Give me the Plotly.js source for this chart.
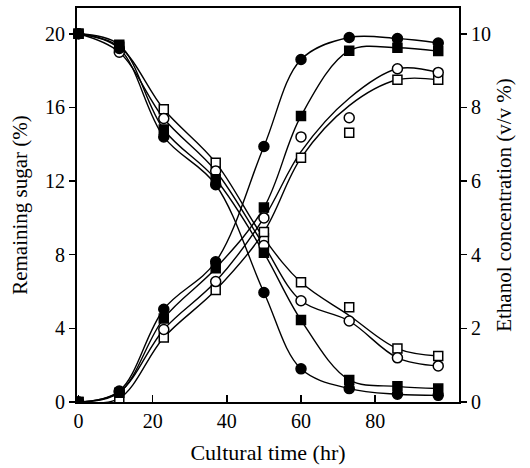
<!DOCTYPE html>
<html>
<head>
<meta charset="utf-8">
<script src="https://cdn.plot.ly/plotly-3.0.1.min.js"></script>
<style>html,body{margin:0;padding:0;background:#fff;}#chart{width:530px;height:468px;}</style>
</head>
<body>
<div id="chart"></div>
<script>
// Cultural time (hr)
var time = [0, 11, 23, 37, 50, 60, 73, 86, 97];

// Remaining sugar (%) - left axis
var sugarFilledCircle = [20, 19.2, 14.4, 11.8, 5.95, 1.8, 0.73, 0.42, 0.36];
var sugarFilledSquare = [20, 19.4, 14.8, 12.1, 8.1, 4.45, 1.2, 0.85, 0.73];
var sugarOpenCircle   = [20, 19.0, 15.4, 12.55, 8.5, 5.5, 4.4, 2.4, 1.96];
var sugarOpenSquare   = [20, 19.3, 15.9, 13.0, 8.9, 6.5, 5.15, 2.9, 2.5];
// smooth curve drawn through the open-square sugar data
var sugarOpenSquareCurve = [20, 19.3, 15.9, 13.0, 8.9, 6.5, 4.7, 2.9, 2.5];

// Ethanol concentration (v/v %) - right axis
var ethFilledCircle = [0, 0.3, 2.52, 3.81, 6.94, 9.3, 9.9, 9.87, 9.75];
var ethFilledSquare = [0, 0.25, 2.27, 3.63, 5.28, 7.77, 9.54, 9.62, 9.53];
var ethOpenCircle   = [0, 0.27, 1.97, 3.27, 5.0, 7.2, 7.72, 9.05, 8.95];
var ethOpenSquare   = [0, 0.1, 1.75, 3.04, 4.62, 6.63, 7.31, 8.75, 8.75];
// smooth curves drawn through the open-marker ethanol data
var ethOpenCircleCurve = [0, 0.27, 1.97, 3.27, 5.0, 6.8, 8.25, 9.05, 8.95];
var ethOpenSquareCurve = [0, 0.1, 1.75, 3.04, 4.62, 6.63, 8.05, 8.75, 8.75];

var xTicks = [0, 20, 40, 60, 80];
var sugarTicks = [0, 4, 8, 12, 16, 20];
var ethTicks = [0, 2, 4, 6, 8, 10];

var lineStyle = {color: '#000', width: 1.4, shape: 'spline', smoothing: 1};
function curve(y, axis) {
  return {x: time, y: y, yaxis: axis, mode: 'lines', line: lineStyle,
          hoverinfo: 'skip', showlegend: false};
}
function pts(y, axis, symbol, filled, size, clip) {
  return {x: time, y: y, yaxis: axis, mode: 'markers', showlegend: false,
          cliponaxis: clip,
          marker: {symbol: symbol, size: size, color: filled ? '#000' : '#fff',
                   line: {color: '#000', width: 1.5}}};
}

var traces = [
  curve(sugarFilledCircle, 'y'),
  curve(sugarFilledSquare, 'y'),
  curve(sugarOpenCircle, 'y'),
  curve(sugarOpenSquareCurve, 'y'),
  curve(ethFilledCircle, 'y2'),
  curve(ethFilledSquare, 'y2'),
  curve(ethOpenCircleCurve, 'y2'),
  curve(ethOpenSquareCurve, 'y2'),
  pts(sugarOpenSquare, 'y', 'square', false, 9, false),
  pts(sugarOpenCircle, 'y', 'circle', false, 10, false),
  pts(sugarFilledSquare, 'y', 'square', true, 9, false),
  pts(sugarFilledCircle, 'y', 'circle', true, 10, false),
  pts(ethOpenSquare, 'y2', 'square', false, 9, true),
  pts(ethOpenCircle, 'y2', 'circle', false, 10, true),
  pts(ethFilledSquare, 'y2', 'square', true, 9, true),
  pts(ethFilledCircle, 'y2', 'circle', true, 10, true)
];

var fontFam = '"Liberation Serif", "DejaVu Serif", serif';
var layout = {
  width: 530, height: 468,
  margin: {l: 77, r: 71, t: 8, b: 66, autoexpand: false},
  paper_bgcolor: '#fff', plot_bgcolor: '#fff',
  font: {family: fontFam, size: 20, color: '#000'},
  showlegend: false,
  xaxis: {
    range: [-0.4, 102.6], tickvals: xTicks, ticktext: xTicks.map(String),
    ticks: 'inside', ticklen: 7, tickwidth: 1.5, tickcolor: '#000',
    showline: true, linecolor: '#000', linewidth: 2, mirror: true,
    showgrid: false, zeroline: false,
    tickfont: {size: 20},
    title: {text: 'Cultural time (hr)', font: {size: 22}, standoff: 14}
  },
  yaxis: {
    range: [0, 21.4], tickvals: sugarTicks, ticktext: sugarTicks.map(String),
    ticks: 'outside', ticklen: 6, tickwidth: 1.5, tickcolor: '#000',
    showline: true, linecolor: '#000', linewidth: 2,
    showgrid: false, zeroline: false,
    tickfont: {size: 20},
    title: {text: 'Remaining sugar (%)', font: {size: 21}, standoff: 12}
  },
  yaxis2: {
    overlaying: 'y', side: 'right',
    range: [0, 10.7], tickvals: ethTicks, ticktext: ethTicks.map(String),
    ticks: 'outside', ticklen: 6, tickwidth: 1.5, tickcolor: '#000',
    showline: true, linecolor: '#000', linewidth: 2,
    showgrid: false, zeroline: false,
    tickfont: {size: 20},
    title: {text: 'Ethanol concentration (v/v %)', font: {size: 21}, standoff: 6}
  }
};

Plotly.newPlot('chart', traces, layout, {displayModeBar: false, staticPlot: true});
</script>
</body>
</html>
